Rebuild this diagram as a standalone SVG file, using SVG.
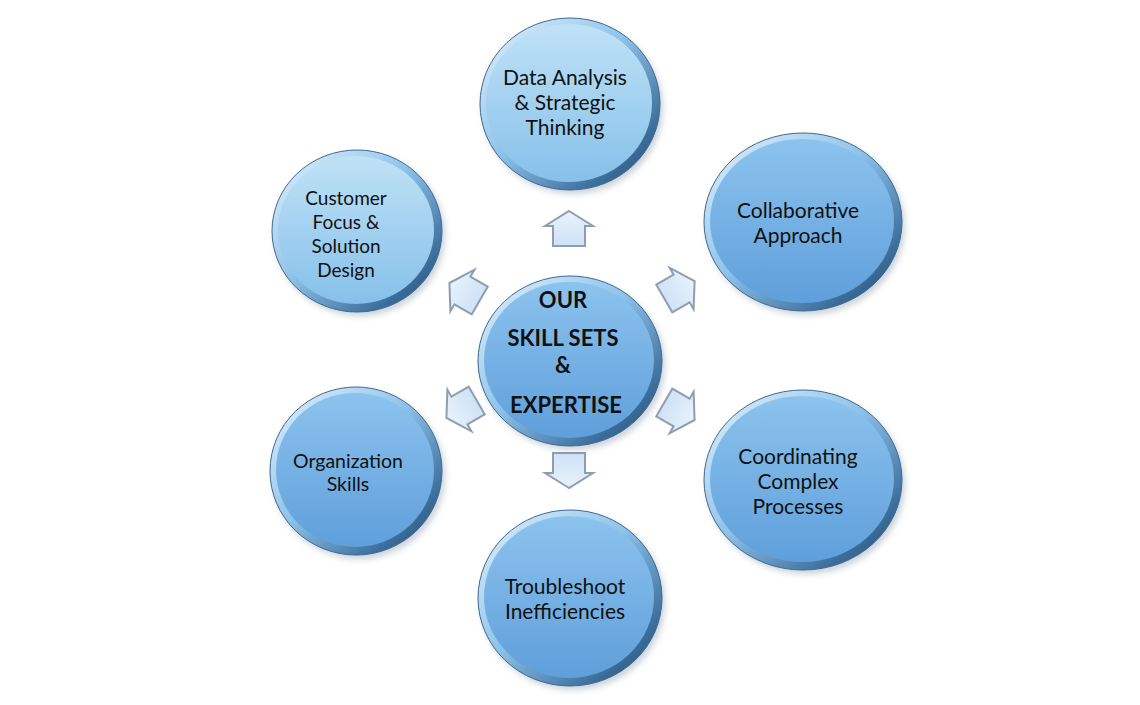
<svg xmlns="http://www.w3.org/2000/svg" width="1140" height="705" viewBox="0 0 1140 705">
<defs>
<linearGradient id="rim" x1="0" y1="0" x2="1" y2="1">
<stop offset="0" stop-color="#e6f3fc"/>
<stop offset="0.45" stop-color="#8fc3ea"/>
<stop offset="0.8" stop-color="#3d6f9c"/>
<stop offset="1" stop-color="#1d4468"/>
</linearGradient>
<linearGradient id="fillLight" x1="0" y1="0" x2="0" y2="1">
<stop offset="0" stop-color="#bfe2f6"/>
<stop offset="1" stop-color="#86c0ea"/>
</linearGradient>
<linearGradient id="fillMid" x1="0" y1="0" x2="0" y2="1">
<stop offset="0" stop-color="#8cc3ee"/>
<stop offset="1" stop-color="#5f9fdb"/>
</linearGradient>
<linearGradient id="arrowFill" x1="0" y1="0" x2="0" y2="1">
<stop offset="0" stop-color="#e8f2fc"/>
<stop offset="1" stop-color="#cfe2f6"/>
</linearGradient>
<filter id="sh" x="-20%" y="-20%" width="140%" height="140%">
<feGaussianBlur stdDeviation="3"/>
</filter>
<path id="arr" d="M0,-18 L24,-3 L16,-3 L16,17 L-16,17 L-16,-3 L-24,-3 Z"/>
</defs>
<style>
.rim{fill:url(#rim);stroke:#3e6a93;stroke-width:1}
.shadow{fill:#6a7f94;opacity:0.35;filter:url(#sh)}
.lt{fill:url(#fillLight)}
.md{fill:url(#fillMid)}
.t{font-family:Lato,"Open Sans","Liberation Sans",sans-serif;font-size:21px;fill:#111111;text-anchor:middle}
.b{font-weight:bold;font-size:22px}
.a{fill:url(#arrowFill);stroke:#8f9db0;stroke-width:2;stroke-linejoin:miter}
</style>
<rect width="1140" height="705" fill="#ffffff"/>

<g id="connectors">
<use href="#arr" class="a" transform="translate(569,229)"/>
<use href="#arr" class="a" transform="translate(569,470) rotate(180)"/>
<use href="#arr" class="a" transform="translate(465,292) rotate(-60)"/>
<use href="#arr" class="a" transform="translate(679,290) rotate(60)"/>
<use href="#arr" class="a" transform="translate(462,409) rotate(-120)"/>
<use href="#arr" class="a" transform="translate(679,411) rotate(120)"/>
</g>

<g id="node-top">
<ellipse class="shadow" cx="573" cy="108" rx="90" ry="86"/>
<ellipse class="rim" cx="570" cy="104" rx="90" ry="86"/>
<ellipse class="lt" cx="569" cy="103" rx="83" ry="79"/>
<text class="t" x="565" y="85">Data Analysis</text>
<text class="t" x="565" y="110">&amp; Strategic</text>
<text class="t" x="565" y="135">Thinking</text>
</g>

<g id="node-customer">
<ellipse class="shadow" cx="360" cy="235" rx="85" ry="81"/>
<ellipse class="rim" cx="357" cy="231" rx="85" ry="81"/>
<ellipse class="lt" cx="356" cy="230" rx="78" ry="74"/>
<text class="t" x="346" y="205" style="font-size:19px">Customer</text>
<text class="t" x="346" y="229" style="font-size:19px">Focus &amp;</text>
<text class="t" x="346" y="253" style="font-size:19px">Solution</text>
<text class="t" x="346" y="277" style="font-size:19px">Design</text>
</g>

<g id="node-collab">
<ellipse class="shadow" cx="806" cy="226" rx="99" ry="89"/>
<ellipse class="rim" cx="803" cy="222" rx="99" ry="89"/>
<ellipse class="md" cx="802" cy="221" rx="92" ry="82"/>
<text class="t" x="798" y="218">Collaborative</text>
<text class="t" x="798" y="243">Approach</text>
</g>

<g id="node-center">
<ellipse class="shadow" cx="573" cy="365" rx="92" ry="85"/>
<ellipse class="rim" cx="570" cy="361" rx="92" ry="85"/>
<ellipse class="md" cx="569" cy="360" rx="85" ry="78"/>
<text class="t b" x="563" y="308">OUR</text>
<text class="t b" x="563" y="346">SKILL SETS</text>
<text class="t b" x="563" y="373">&amp;</text>
<text class="t b" x="566" y="413">EXPERTISE</text>
</g>

<g id="node-organization">
<ellipse class="shadow" cx="359" cy="475" rx="86" ry="84"/>
<ellipse class="rim" cx="356" cy="471" rx="86" ry="84"/>
<ellipse class="md" cx="355" cy="470" rx="79" ry="77"/>
<text class="t" x="348" y="468" style="font-size:19.5px">Organization</text>
<text class="t" x="348" y="491" style="font-size:19.5px">Skills</text>
</g>

<g id="node-coordinating">
<ellipse class="shadow" cx="806" cy="484" rx="99" ry="90"/>
<ellipse class="rim" cx="803" cy="480" rx="99" ry="90"/>
<ellipse class="md" cx="802" cy="479" rx="92" ry="83"/>
<text class="t" x="798" y="464">Coordinating</text>
<text class="t" x="798" y="489">Complex</text>
<text class="t" x="798" y="514">Processes</text>
</g>

<g id="node-troubleshoot">
<ellipse class="shadow" cx="573" cy="602" rx="92" ry="88"/>
<ellipse class="rim" cx="570" cy="598" rx="92" ry="88"/>
<ellipse class="md" cx="569" cy="597" rx="85" ry="81"/>
<text class="t" x="565" y="594">Troubleshoot</text>
<text class="t" x="565" y="619">Inefficiencies</text>
</g>
</svg>
